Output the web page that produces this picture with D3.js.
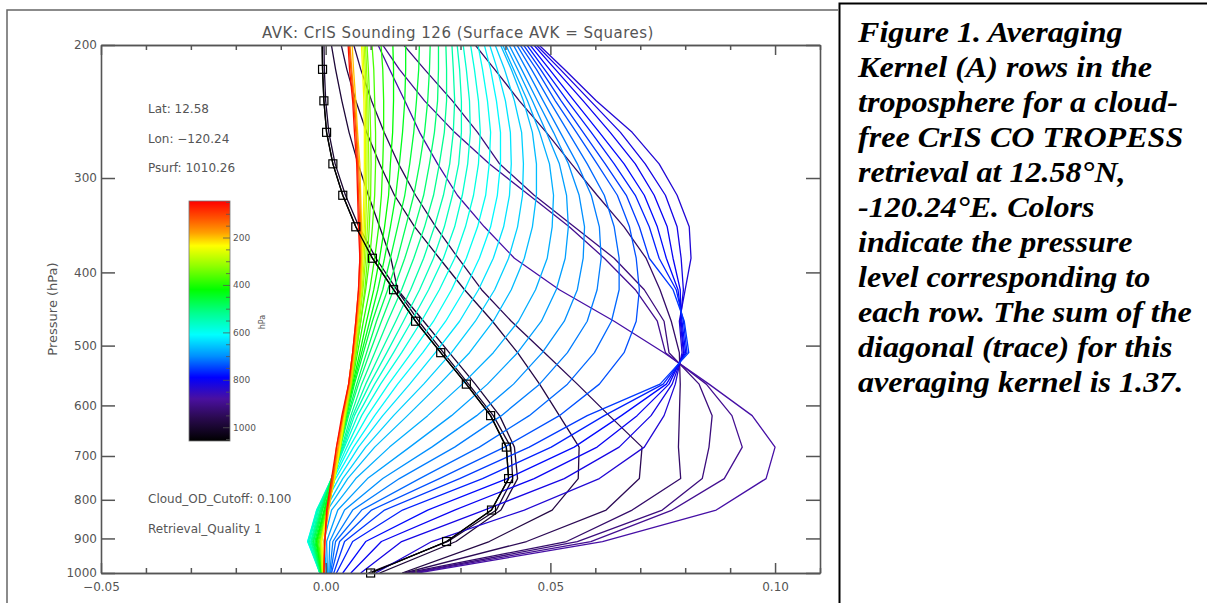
<!DOCTYPE html>
<meta charset="utf-8">
<style>
    body { margin: 0; background: #fff; }
    text { font-family: "DejaVu Sans", sans-serif; fill: #555; }
    .caption { font-family: "Liberation Serif", serif; font-weight: bold; font-style: italic; font-size: 30px; fill: #000; }
</style>
<svg width="1207" height="603"></svg>
<script src="https://d3js.org/d3.v7.min.js"></script>
<script>
    // retrieval levels (hPa), surface first
    var levels = [1000, 908.5, 825.4, 749.9, 681.3, 619.0, 562.3, 510.9, 464.2, 421.7, 383.1, 348.1, 316.2, 287.3, 261.0, 237.1, 215.4, 195.7];

    // averaging kernel rows, one value per level above, named by the row's pressure
    var r1010 = [0.0100, 0.0269, 0.0369, 0.0407, 0.0402, 0.0367, 0.0313, 0.0256, 0.0200, 0.0151, 0.0104, 0.0067, 0.0038, 0.0016, 0.0002, -0.0004, -0.0007, -0.0008];
    var r1000 = [0.0095, 0.0272, 0.0380, 0.0416, 0.0412, 0.0373, 0.0318, 0.0262, 0.0207, 0.0158, 0.0112, 0.0074, 0.0044, 0.0021, 0.0007, 0.0000, -0.0003, -0.0004];
    var r990 = [0.0120, 0.0290, 0.0390, 0.0427, 0.0420, 0.0387, 0.0333, 0.0275, 0.0218, 0.0160, 0.0145, 0.0120, 0.0095, 0.0072, 0.0052, 0.0036, 0.0022, 0.0010];
    var r975 = [0.0170, 0.0364, 0.0504, 0.0562, 0.0564, 0.0520, 0.0476, 0.0427, 0.0371, 0.0309, 0.0253, 0.0198, 0.0153, 0.0120, 0.0091, 0.0067, 0.0047, 0.0031];
    var r955 = [0.0175, 0.0447, 0.0624, 0.0698, 0.0704, 0.0631, 0.0560, 0.0487, 0.0413, 0.0347, 0.0295, 0.0245, 0.0200, 0.0162, 0.0130, 0.0102, 0.0078, 0.0058];
    var r935 = [0.0180, 0.0536, 0.0682, 0.0790, 0.0785, 0.0787, 0.0789, 0.0787, 0.0769, 0.0744, 0.0713, 0.0664, 0.0604, 0.0547, 0.0491, 0.0431, 0.0376, 0.0320];
    var r915 = [0.0190, 0.0560, 0.0749, 0.0838, 0.0853, 0.0860, 0.0831, 0.0764, 0.0753, 0.0709, 0.0642, 0.0553, 0.0464, 0.0387, 0.0338, 0.0282, 0.0220, 0.0160];
    var r895 = [0.0195, 0.0590, 0.0771, 0.0887, 0.0927, 0.0904, 0.0847, 0.0756, 0.0738, 0.0689, 0.0620, 0.0542, 0.0453, 0.0364, 0.0287, 0.0220, 0.0164, 0.0116];
    var r875 = [0.0205, 0.0616, 0.0869, 0.0980, 0.1000, 0.0949, 0.0853, 0.0753, 0.0642, 0.0520, 0.0420, 0.0353, 0.0293, 0.0249, 0.0209, 0.0176, 0.0142, 0.0109];
    var r830 = [0.0111, 0.0236, 0.0442, 0.0609, 0.0709, 0.0753, 0.0778, 0.0793, 0.0787, 0.0800, 0.0813, 0.0809, 0.0782, 0.0742, 0.0682, 0.0602, 0.0531, 0.0458];
    var r815 = [0.0078, 0.0169, 0.0353, 0.0531, 0.0653, 0.0724, 0.0771, 0.0796, 0.0789, 0.0796, 0.0791, 0.0782, 0.0756, 0.0711, 0.0656, 0.0589, 0.0522, 0.0453];
    var r800 = [0.0056, 0.0124, 0.0287, 0.0464, 0.0604, 0.0693, 0.0764, 0.0798, 0.0791, 0.0789, 0.0773, 0.0760, 0.0731, 0.0689, 0.0633, 0.0573, 0.0511, 0.0449];
    var r785 = [0.0038, 0.0089, 0.0227, 0.0404, 0.0553, 0.0658, 0.0758, 0.0801, 0.0793, 0.0784, 0.0758, 0.0738, 0.0709, 0.0664, 0.0609, 0.0553, 0.0498, 0.0442];
    var r770 = [0.0024, 0.0060, 0.0171, 0.0349, 0.0502, 0.0620, 0.0751, 0.0804, 0.0796, 0.0780, 0.0742, 0.0720, 0.0689, 0.0642, 0.0591, 0.0538, 0.0487, 0.0436];
    var r755 = [0.0018, 0.0042, 0.0131, 0.0298, 0.0453, 0.0582, 0.0744, 0.0808, 0.0798, 0.0773, 0.0720, 0.0698, 0.0669, 0.0622, 0.0573, 0.0524, 0.0478, 0.0429];
    var r740 = [0.0013, 0.0031, 0.0102, 0.0253, 0.0398, 0.0520, 0.0609, 0.0664, 0.0691, 0.0698, 0.0691, 0.0676, 0.0649, 0.0604, 0.0558, 0.0511, 0.0469, 0.0422];
    var r725 = [0.0011, 0.0022, 0.0080, 0.0209, 0.0342, 0.0453, 0.0538, 0.0598, 0.0636, 0.0653, 0.0653, 0.0642, 0.0620, 0.0582, 0.0540, 0.0498, 0.0458, 0.0416];
    var r712 = [0.0009, 0.0016, 0.0060, 0.0164, 0.0287, 0.0391, 0.0476, 0.0538, 0.0582, 0.0604, 0.0613, 0.0609, 0.0591, 0.0560, 0.0522, 0.0484, 0.0447, 0.0409];
    var r700 = [0.0007, 0.0009, 0.0042, 0.0127, 0.0236, 0.0336, 0.0418, 0.0482, 0.0531, 0.0560, 0.0573, 0.0576, 0.0564, 0.0540, 0.0507, 0.0471, 0.0436, 0.0400];
    var r688 = [0.0004, 0.0002, 0.0027, 0.0093, 0.0187, 0.0280, 0.0360, 0.0427, 0.0480, 0.0513, 0.0533, 0.0540, 0.0536, 0.0520, 0.0491, 0.0460, 0.0427, 0.0393];
    var r676 = [0.0002, -0.0004, 0.0013, 0.0067, 0.0142, 0.0227, 0.0304, 0.0373, 0.0429, 0.0467, 0.0493, 0.0504, 0.0507, 0.0498, 0.0476, 0.0449, 0.0418, 0.0387];
    var r664 = [-0.0002, -0.0013, 0.0004, 0.0049, 0.0109, 0.0182, 0.0253, 0.0320, 0.0373, 0.0413, 0.0442, 0.0460, 0.0469, 0.0469, 0.0460, 0.0440, 0.0413, 0.0382];
    var r648 = [-0.0004, -0.0020, -0.0002, 0.0038, 0.0089, 0.0151, 0.0218, 0.0280, 0.0333, 0.0376, 0.0407, 0.0427, 0.0438, 0.0440, 0.0436, 0.0420, 0.0398, 0.0371];
    var r632 = [-0.0007, -0.0027, -0.0009, 0.0029, 0.0073, 0.0127, 0.0187, 0.0244, 0.0298, 0.0340, 0.0373, 0.0396, 0.0409, 0.0413, 0.0411, 0.0400, 0.0382, 0.0360];
    var r616 = [-0.0009, -0.0033, -0.0013, 0.0022, 0.0062, 0.0109, 0.0160, 0.0216, 0.0267, 0.0309, 0.0342, 0.0367, 0.0382, 0.0389, 0.0389, 0.0380, 0.0367, 0.0349];
    var r600 = [-0.0011, -0.0040, -0.0018, 0.0018, 0.0053, 0.0093, 0.0140, 0.0191, 0.0240, 0.0280, 0.0313, 0.0338, 0.0356, 0.0364, 0.0367, 0.0360, 0.0349, 0.0336];
    var r585 = [-0.0013, -0.0040, -0.0020, 0.0016, 0.0047, 0.0080, 0.0122, 0.0169, 0.0213, 0.0253, 0.0287, 0.0311, 0.0329, 0.0340, 0.0344, 0.0340, 0.0331, 0.0320];
    var r570 = [-0.0013, -0.0038, -0.0020, 0.0013, 0.0042, 0.0071, 0.0109, 0.0151, 0.0191, 0.0229, 0.0262, 0.0287, 0.0304, 0.0316, 0.0322, 0.0320, 0.0313, 0.0304];
    var r555 = [-0.0013, -0.0036, -0.0018, 0.0013, 0.0040, 0.0064, 0.0098, 0.0136, 0.0173, 0.0209, 0.0240, 0.0264, 0.0282, 0.0296, 0.0302, 0.0302, 0.0298, 0.0291];
    var r540 = [-0.0013, -0.0033, -0.0016, 0.0013, 0.0038, 0.0060, 0.0089, 0.0122, 0.0156, 0.0189, 0.0218, 0.0242, 0.0262, 0.0276, 0.0284, 0.0287, 0.0284, 0.0280];
    var r520 = [-0.0013, -0.0031, -0.0013, 0.0013, 0.0036, 0.0056, 0.0080, 0.0109, 0.0138, 0.0169, 0.0196, 0.0220, 0.0240, 0.0253, 0.0264, 0.0269, 0.0269, 0.0267];
    var r500 = [-0.0011, -0.0029, -0.0011, 0.0013, 0.0033, 0.0051, 0.0073, 0.0098, 0.0124, 0.0151, 0.0176, 0.0198, 0.0218, 0.0231, 0.0242, 0.0249, 0.0251, 0.0251];
    var r480 = [-0.0011, -0.0027, -0.0009, 0.0013, 0.0031, 0.0049, 0.0069, 0.0091, 0.0113, 0.0138, 0.0160, 0.0178, 0.0196, 0.0209, 0.0220, 0.0227, 0.0231, 0.0233];
    var r460 = [-0.0011, -0.0024, -0.0007, 0.0013, 0.0031, 0.0047, 0.0064, 0.0084, 0.0104, 0.0127, 0.0144, 0.0160, 0.0176, 0.0187, 0.0196, 0.0202, 0.0207, 0.0209];
    var r440 = [-0.0009, -0.0022, -0.0004, 0.0016, 0.0031, 0.0044, 0.0062, 0.0080, 0.0098, 0.0116, 0.0131, 0.0144, 0.0156, 0.0164, 0.0171, 0.0176, 0.0178, 0.0178];
    var r420 = [-0.0009, -0.0020, -0.0002, 0.0016, 0.0031, 0.0044, 0.0060, 0.0076, 0.0091, 0.0107, 0.0120, 0.0131, 0.0140, 0.0144, 0.0149, 0.0151, 0.0151, 0.0149];
    var r395 = [-0.0009, -0.0018, 0.0000, 0.0018, 0.0031, 0.0044, 0.0058, 0.0071, 0.0084, 0.0098, 0.0109, 0.0118, 0.0124, 0.0127, 0.0129, 0.0129, 0.0127, 0.0122];
    var r370 = [-0.0007, -0.0016, 0.0002, 0.0018, 0.0031, 0.0042, 0.0056, 0.0067, 0.0078, 0.0089, 0.0098, 0.0104, 0.0109, 0.0111, 0.0111, 0.0109, 0.0107, 0.0102];
    var r345 = [-0.0007, -0.0013, 0.0002, 0.0020, 0.0033, 0.0045, 0.0058, 0.0068, 0.0078, 0.0087, 0.0093, 0.0097, 0.0100, 0.0101, 0.0100, 0.0098, 0.0095, 0.0091];
    var r315 = [-0.0007, -0.0011, 0.0004, 0.0020, 0.0033, 0.0044, 0.0056, 0.0066, 0.0075, 0.0083, 0.0089, 0.0093, 0.0096, 0.0096, 0.0095, 0.0094, 0.0091, 0.0088];
    var r290 = [-0.0007, -0.0011, 0.0004, 0.0020, 0.0032, 0.0043, 0.0054, 0.0064, 0.0073, 0.0081, 0.0086, 0.0089, 0.0091, 0.0092, 0.0092, 0.0091, 0.0088, 0.0085];
    var r265 = [-0.0007, -0.0009, 0.0004, 0.0020, 0.0032, 0.0042, 0.0052, 0.0062, 0.0071, 0.0079, 0.0083, 0.0086, 0.0088, 0.0089, 0.0089, 0.0088, 0.0085, 0.0082];
    var r240 = [-0.0004, -0.0009, 0.0004, 0.0019, 0.0031, 0.0041, 0.0051, 0.0060, 0.0069, 0.0077, 0.0081, 0.0083, 0.0085, 0.0086, 0.0086, 0.0085, 0.0082, 0.0079];
    var r200 = [-0.0004, -0.0004, 0.0007, 0.0018, 0.0029, 0.0040, 0.0056, 0.0064, 0.0071, 0.0078, 0.0080, 0.0080, 0.0078, 0.0076, 0.0071, 0.0067, 0.0062, 0.0058];
    var r160 = [-0.0004, -0.0002, 0.0004, 0.0016, 0.0027, 0.0038, 0.0053, 0.0062, 0.0069, 0.0076, 0.0078, 0.0078, 0.0076, 0.0073, 0.0069, 0.0064, 0.0058, 0.0053];
    var r110 = [-0.0004, -0.0002, 0.0004, 0.0016, 0.0024, 0.0038, 0.0051, 0.0060, 0.0067, 0.0073, 0.0076, 0.0076, 0.0073, 0.0071, 0.0067, 0.0062, 0.0056, 0.0051];
    var r60 = [-0.0004, -0.0002, 0.0002, 0.0013, 0.0024, 0.0036, 0.0051, 0.0060, 0.0067, 0.0073, 0.0076, 0.0073, 0.0071, 0.0069, 0.0064, 0.0060, 0.0053, 0.0049];

    var rowPressure = [1010.26, 1000, 990, 975, 955, 935, 915, 895, 875, 830, 815, 800, 785, 770, 755, 740, 725, 712, 700, 688, 676,
        664, 648, 632, 616, 600, 585, 570, 555, 540, 520, 500, 480, 460, 440, 420, 395, 370, 345, 315, 290, 265, 240, 200, 160, 110, 60];
    var rowValues = [r1010, r1000, r990, r975, r955, r935, r915, r895, r875, r830, r815, r800, r785, r770, r755, r740, r725, r712, r700, r688, r676,
        r664, r648, r632, r616, r600, r585, r570, r555, r540, r520, r500, r480, r460, r440, r420, r395, r370, r345, r315, r290, r265, r240, r200, r160, r110, r60];

    var xMajor = [-0.05, 0.00, 0.05, 0.10];
    var xMinor = [-0.04, -0.03, -0.02, -0.01, 0.01, 0.02, 0.03, 0.04, 0.06, 0.07, 0.08, 0.09, 0.11];
    var yTicks = [200, 300, 400, 500, 600, 700, 800, 900, 1000];
    var cbMajor = [200, 400, 600, 800, 1000];
    var cbMinor = [50, 100, 150, 250, 300, 350, 450, 500, 550, 650, 700, 750, 850, 900, 950, 1050];

    var info = ["Lat: 12.58", "Lon: \u2212120.24", "Psurf: 1010.26"];
    var quality = ["Cloud_OD_Cutoff: 0.100", "Retrieval_Quality 1"];
    var captionLines = ["Figure 1. Averaging", "Kernel (A) rows in the", "troposphere for a cloud-", "free CrIS CO TROPESS",
        "retrieval at 12.58\u00b0N,", "-120.24\u00b0E. Colors", "indicate the pressure", "level corresponding to",
        "each row. The sum of the", "diagonal (trace) for this", "averaging kernel is 1.37."];

    // rainbow colour table, keyed by pressure
    var cmapP = [46, 120, 180, 235, 320, 420, 520, 610, 700, 790, 880, 960, 1058];
    var cmapC = ["#ff0000", "#ff5500", "#ffa000", "#ffff00", "#90ff00", "#00ff00", "#00ff90", "#00ffff", "#0090ff", "#0000ff", "#4a10a0", "#2a0a50", "#000000"];
    var color = d3.scaleLinear().domain(cmapP).range(cmapC);

    var svg = d3.select('svg');
    var plotL = 101, plotR = 820, plotT = 45, plotB = 573;

    var x = d3.scaleLinear().domain([-0.05, 0.11]).range([plotL, plotR]);
    var y = d3.scaleLog().domain([1000, 200]).range([plotB, plotT]);

    // frames
    svg.append('path').attr('d', 'M7,603V10H838').attr('fill', 'none').attr('stroke', '#666').attr('stroke-width', 1.5);
    svg.append('path').attr('d', 'M839.5,603V3.5H1207').attr('fill', 'none').attr('stroke', '#000').attr('stroke-width', 2);

    svg.append('clipPath').attr('id', 'plot').append('rect')
        .attr('x', plotL).attr('y', plotT).attr('width', plotR - plotL).attr('height', plotB - plotT);

    var rows = rowValues.map(function(v, i) {
        return {p: rowPressure[i], pts: levels.map(function(l, k) { return [v[k], l]; })};
    });

    var line = d3.line().x(function(d) { return x(d[0]); }).y(function(d) { return y(d[1]); });

    var g = svg.append('g').attr('clip-path', 'url(#plot)');
    g.selectAll('path.row').data(rows).join('path')
        .attr('class', 'row')
        .attr('d', function(d) { return line(d.pts); })
        .attr('fill', 'none')
        .attr('stroke', function(d, i) { return i == 0 ? '#000' : color(d.p); })
        .attr('stroke-width', 1.3)
        .attr('stroke-linejoin', 'round');

    // surface row again on top, with squares
    g.append('path').attr('d', line(rows[0].pts)).attr('fill', 'none').attr('stroke', '#000').attr('stroke-width', 1.3);
    svg.append('g').selectAll('rect').data(rows[0].pts.filter(function(d) { return d[1] >= 200; })).join('rect')
        .attr('x', function(d) { return x(d[0]) - 4; })
        .attr('y', function(d) { return y(d[1]) - 4; })
        .attr('width', 8).attr('height', 8)
        .attr('fill', 'none').attr('stroke', '#000').attr('stroke-width', 1.2);

    function style(sel, labels) {
        sel.select('.domain').attr('stroke', '#555').attr('stroke-width', 1.6);
        sel.selectAll('.tick line').attr('stroke', '#555').attr('stroke-width', 1.5);
        sel.selectAll('text').attr('font-size', 12).attr('font-family', '"DejaVu Sans", sans-serif').attr('fill', '#555');
        if (!labels) sel.selectAll('text').remove();
    }

    var fmt = d3.format('.2f');
    style(svg.append('g').attr('transform', 'translate(0,' + plotB + ')')
        .call(d3.axisBottom(x).tickValues(xMajor).tickSize(-10).tickSizeOuter(0).tickPadding(9).tickFormat(fmt)), true);
    style(svg.append('g').attr('transform', 'translate(0,' + plotB + ')')
        .call(d3.axisBottom(x).tickValues(xMinor).tickSize(-5).tickSizeOuter(0)), false);
    style(svg.append('g').attr('transform', 'translate(0,' + plotT + ')')
        .call(d3.axisTop(x).tickValues(xMajor).tickSize(-10).tickSizeOuter(0)), false);
    style(svg.append('g').attr('transform', 'translate(0,' + plotT + ')')
        .call(d3.axisTop(x).tickValues(xMinor).tickSize(-5).tickSizeOuter(0)), false);
    style(svg.append('g').attr('transform', 'translate(' + plotL + ',0)')
        .call(d3.axisLeft(y).tickValues(yTicks).tickSize(-14).tickSizeOuter(0).tickPadding(4).tickFormat(d3.format('d'))), true);
    style(svg.append('g').attr('transform', 'translate(' + plotR + ',0)')
        .call(d3.axisRight(y).tickValues(yTicks).tickSize(-14).tickSizeOuter(0)), false);

    svg.append('text').attr('transform', 'translate(57,309) rotate(-90)')
        .attr('text-anchor', 'middle').attr('font-size', 13).text('Pressure (hPa)');

    svg.append('text').attr('x', 458).attr('y', 38).attr('text-anchor', 'middle')
        .attr('font-size', 15).attr('letter-spacing', 0.5)
        .text('AVK: CrIS Sounding 126 (Surface AVK = Squares)');

    svg.selectAll('text.info').data(info).join('text').attr('class', 'info')
        .attr('x', 148).attr('y', function(d, i) { return 113 + i * 29.5; })
        .attr('font-size', 12).text(function(d) { return d; });
    svg.selectAll('text.qual').data(quality).join('text').attr('class', 'qual')
        .attr('x', 148).attr('y', function(d, i) { return 503 + i * 30; })
        .attr('font-size', 12).text(function(d) { return d; });

    // colour bar
    var cb = d3.scaleLinear().domain([46, 1058]).range([201, 441]);
    var grad = svg.append('defs').append('linearGradient').attr('id', 'cbar')
        .attr('x1', 0).attr('y1', 0).attr('x2', 0).attr('y2', 1);
    grad.selectAll('stop').data(cmapP).join('stop')
        .attr('offset', function(d) { return (d - 46) / (1058 - 46); })
        .attr('stop-color', function(d, i) { return cmapC[i]; });
    svg.append('rect').attr('x', 189).attr('y', cb(46)).attr('width', 41).attr('height', cb(1058) - cb(46))
        .attr('fill', 'url(#cbar)').attr('stroke', '#777').attr('stroke-width', 0.8);

    var cbg = svg.append('g').attr('transform', 'translate(230,0)')
        .call(d3.axisRight(cb).tickValues(cbMajor).tickSize(-7).tickSizeOuter(0).tickPadding(3).tickFormat(d3.format('d')));
    cbg.select('.domain').remove();
    cbg.selectAll('.tick line').attr('stroke', '#555').attr('stroke-width', 0.8);
    cbg.selectAll('text').attr('font-size', 9).attr('font-family', '"DejaVu Sans", sans-serif').attr('fill', '#666');
    var cbm = svg.append('g').attr('transform', 'translate(230,0)')
        .call(d3.axisRight(cb).tickValues(cbMinor).tickSize(-4).tickSizeOuter(0).tickFormat(''));
    cbm.select('.domain').remove();
    cbm.selectAll('.tick line').attr('stroke', '#555').attr('stroke-width', 0.8);

    svg.append('text').attr('transform', 'translate(265,322) rotate(-90)')
        .attr('text-anchor', 'middle').attr('font-size', 8).attr('fill', '#777').text('hPa');

    // figure caption
    svg.selectAll('text.caption').data(captionLines).join('text').attr('class', 'caption')
        .attr('transform', function(d, i) { return 'translate(858,' + (42 + i * 35) + ') scale(1.07,1)'; })
        .text(function(d) { return d; });
</script>
